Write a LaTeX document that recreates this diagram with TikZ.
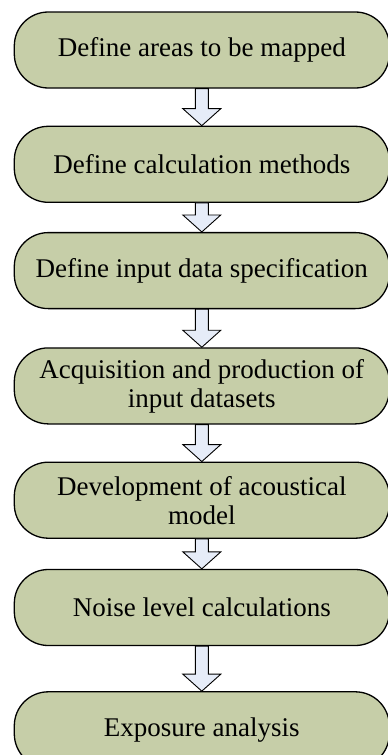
\documentclass[tikz,border=0pt]{standalone}
\usepackage{fontspec}
\setmainfont{Liberation Serif}
\usetikzlibrary{positioning,calc}
\definecolor{boxgreen}{RGB}{198,206,168}
\definecolor{arrowblue}{RGB}{230,236,248}
\tikzset{
  stage/.style={draw, line width=1.3pt, fill=boxgreen, rounded corners=34pt,
    minimum width=375pt, minimum height=76pt, align=center, inner sep=2pt,
    font=\fontsize{27}{29}\selectfont},
  flow/.style={draw, line width=0.9pt, fill=arrowblue, line join=miter}
}
% hollow block arrow from the bottom of #1 to the top of #2
\newcommand{\flowarrow}[2]{%
  \draw[flow] let \p1=(#1.south), \p2=(#2.north) in
    (\x1-6.5pt,\y1) -- (\x1+6.5pt,\y1) -- (\x1+6.5pt,\y2+17pt)
    -- (\x1+19pt,\y2+17pt) -- (\x1,\y2) -- (\x1-19pt,\y2+17pt)
    -- (\x1-6.5pt,\y2+17pt) -- cycle;}

\begin{document}
\begin{tikzpicture}[x=1pt, y=1pt]
        \useasboundingbox (0,0) rectangle (388,-755);
        \node[stage] (areas) at (201.8,-50) {Define areas to be mapped};
        \node[stage] [below=37pt of areas] (methods) {Define calculation methods};
        \node[stage] [below=29pt of methods] (spec) {Define input data specification};
        \node[stage] [below=38pt of spec] (data) {Acquisition and production of\\input datasets};
        \node[stage] [below=37pt of data] (model) {Development of acoustical\\model};
        \node[stage] [below=30pt of model] (noise) {Noise level calculations};
        \node[stage] [below=45pt of noise] (expo) {Exposure analysis};

        \flowarrow{areas}{methods}
        \flowarrow{methods}{spec}
        \flowarrow{spec}{data}
        \flowarrow{data}{model}
        \flowarrow{model}{noise}
        \flowarrow{noise}{expo}
\end{tikzpicture}
\end{document}
